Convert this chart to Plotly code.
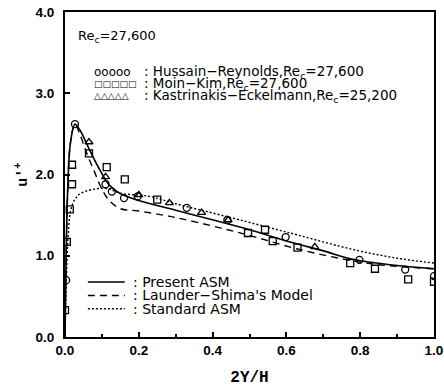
import plotly.graph_objects as go

# ---- data ----
hr_x = [0.003, 0.027, 0.11, 0.127, 0.16, 0.197, 0.33, 0.44, 0.598, 0.798, 0.922, 1.0]
hr_y = [0.70, 2.62, 1.88, 1.79, 1.71, 1.73, 1.59, 1.44, 1.23, 0.95, 0.83, 0.75]

mk_x = [0.0, 0.005, 0.013, 0.019, 0.019, 0.065, 0.113, 0.162, 0.25, 0.496, 0.542, 0.563, 0.63, 0.773, 0.84, 0.93, 1.0]
mk_y = [0.33, 1.17, 1.57, 1.88, 2.12, 2.26, 2.09, 1.94, 1.69, 1.28, 1.32, 1.18, 1.10, 0.91, 0.84, 0.71, 0.68]

ke_x = [0.065, 0.11, 0.2, 0.283, 0.37, 0.442, 0.677]
ke_y = [2.40, 1.97, 1.75, 1.65, 1.53, 1.44, 1.11]

asm_x = [0, 0.003, 0.008, 0.015, 0.027, 0.04, 0.067, 0.094, 0.12, 0.148, 0.2, 0.3, 0.423, 0.5, 0.61, 0.7, 0.787, 0.9, 1.0]
asm_y = [0, 1.0, 1.9, 2.4, 2.62, 2.55, 2.30, 2.06, 1.87, 1.77, 1.68, 1.56, 1.415, 1.32, 1.17, 1.06, 0.95, 0.88, 0.84]

ls_x = [0, 0.003, 0.008, 0.015, 0.027, 0.04, 0.06, 0.081, 0.1, 0.12, 0.15, 0.2, 0.3, 0.423, 0.5, 0.633, 0.765, 0.85, 1.0]
ls_y = [0, 1.0, 1.9, 2.4, 2.62, 2.5, 2.25, 2.02, 1.82, 1.68, 1.58, 1.55, 1.47, 1.34, 1.25, 1.08, 0.95, 0.89, 0.84]

std_x = [0, 0.003, 0.008, 0.015, 0.025, 0.04, 0.06, 0.08, 0.1, 0.12, 0.15, 0.23, 0.3, 0.423, 0.61, 0.787, 0.9, 1.0]
std_y = [0, 0.6, 1.2, 1.55, 1.68, 1.76, 1.80, 1.82, 1.83, 1.82, 1.77, 1.73, 1.64, 1.50, 1.28, 1.07, 0.97, 0.91]

x_ticks = [0.0, 0.2, 0.4, 0.6, 0.8, 1.0]
y_ticks = [0.0, 1.0, 2.0, 3.0, 4.0]

FONT = "DejaVu Sans"
fig = go.Figure()
ln = dict(color="black", width=1.3)
fig.add_trace(go.Scatter(x=asm_x, y=asm_y, mode="lines", line=dict(color="black", width=1.6, shape="spline"), showlegend=False))
fig.add_trace(go.Scatter(x=ls_x, y=ls_y, mode="lines", line=dict(color="black", width=1.4, dash="7px,5px", shape="spline"), showlegend=False))
fig.add_trace(go.Scatter(x=std_x, y=std_y, mode="lines", line=dict(color="black", width=1.4, dash="2px,2px", shape="spline"), showlegend=False))
fig.add_trace(go.Scatter(x=hr_x, y=hr_y, mode="markers", marker=dict(symbol="circle-open", size=7, line=ln, color="black"), showlegend=False))
fig.add_trace(go.Scatter(x=mk_x, y=mk_y, mode="markers", marker=dict(symbol="square-open", size=7, line=ln, color="black"), showlegend=False))
fig.add_trace(go.Scatter(x=ke_x, y=ke_y, mode="markers", marker=dict(symbol="triangle-up-open", size=7, line=ln, color="black"), showlegend=False))

# annotations
fig.add_annotation(x=0.03, y=0.925, xref="paper", yref="paper", xanchor="left", yanchor="middle",
                   text="Re<sub>c</sub>=27,600", showarrow=False, font=dict(family=FONT, size=13, color="black"))
leg_sym = [("ooooo", 12), ("□□□□□", 9), ("△△△△△", 9)]
leg_txt = [": Hussain−Reynolds,Re<sub>c</sub>=27,600",
           ": Moin−Kim,Re<sub>c</sub>=27,600",
           ": Kastrinakis−Eckelmann,Re<sub>c</sub>=25,200"]
for i in range(3):
    yy = 0.816 - i * 0.037
    sym, fs = leg_sym[i]
    fig.add_annotation(x=0.073, y=yy, xref="paper", yref="paper", xanchor="left", yanchor="middle",
                       text=sym, showarrow=False, font=dict(family=FONT, size=fs, color="black"))
    fig.add_annotation(x=0.21, y=yy, xref="paper", yref="paper", xanchor="left", yanchor="middle",
                       text=leg_txt[i], showarrow=False, font=dict(family=FONT, size=13.5, color="black"))

line_leg = [("solid", ": Present ASM"), ("7px,5px", ": Launder−Shima's Model"), ("2px,2px", ": Standard ASM")]
for i, (d, txt) in enumerate(line_leg):
    yy = 0.169 - i * 0.041
    fig.add_shape(type="line", xref="paper", yref="paper", x0=0.062, x1=0.162, y0=yy, y1=yy,
                  line=dict(color="black", width=1.5, dash=d))
    fig.add_annotation(x=0.178, y=yy, xref="paper", yref="paper", xanchor="left", yanchor="middle",
                       text=txt, showarrow=False, font=dict(family=FONT, size=14, color="black"))

axfont = dict(family="Liberation Sans", size=13.5, color="black", weight="bold")
fig.update_xaxes(range=[0, 1.0], tickvals=x_ticks, ticktext=[f"{v:.1f}" for v in x_ticks],
                 ticks="inside", ticklen=5, tickwidth=1.5, tickcolor="black",
                 minor=dict(dtick=0.1, ticks="inside", ticklen=3, tickcolor="black"),
                 showline=True, linecolor="black", linewidth=2, mirror=True, showgrid=False, zeroline=False,
                 tickfont=axfont, automargin=False, ticklabeloverflow="allow",
                 title=dict(text="2Y/H", font=dict(family="Liberation Mono", size=16, color="black", weight="bold"), standoff=14))
fig.update_yaxes(range=[0, 4.0], tickvals=y_ticks, ticktext=[f"{v:.1f}" for v in y_ticks],
                 ticks="inside", ticklen=5, tickwidth=1.5, tickcolor="black",
                 showline=True, linecolor="black", linewidth=2, mirror=True, showgrid=False, zeroline=False,
                 tickfont=axfont, ticklabelstandoff=6, automargin=False, ticklabeloverflow="allow",
                 title=dict(text="u'<sup>+</sup>", font=dict(family="Liberation Mono", size=15, color="black", weight="bold"), standoff=4))
fig.update_layout(width=444, height=387, margin=dict(l=65, r=10, t=12, b=50),
                  plot_bgcolor="white", paper_bgcolor="white", showlegend=False)
fig.write_html("out.html")
